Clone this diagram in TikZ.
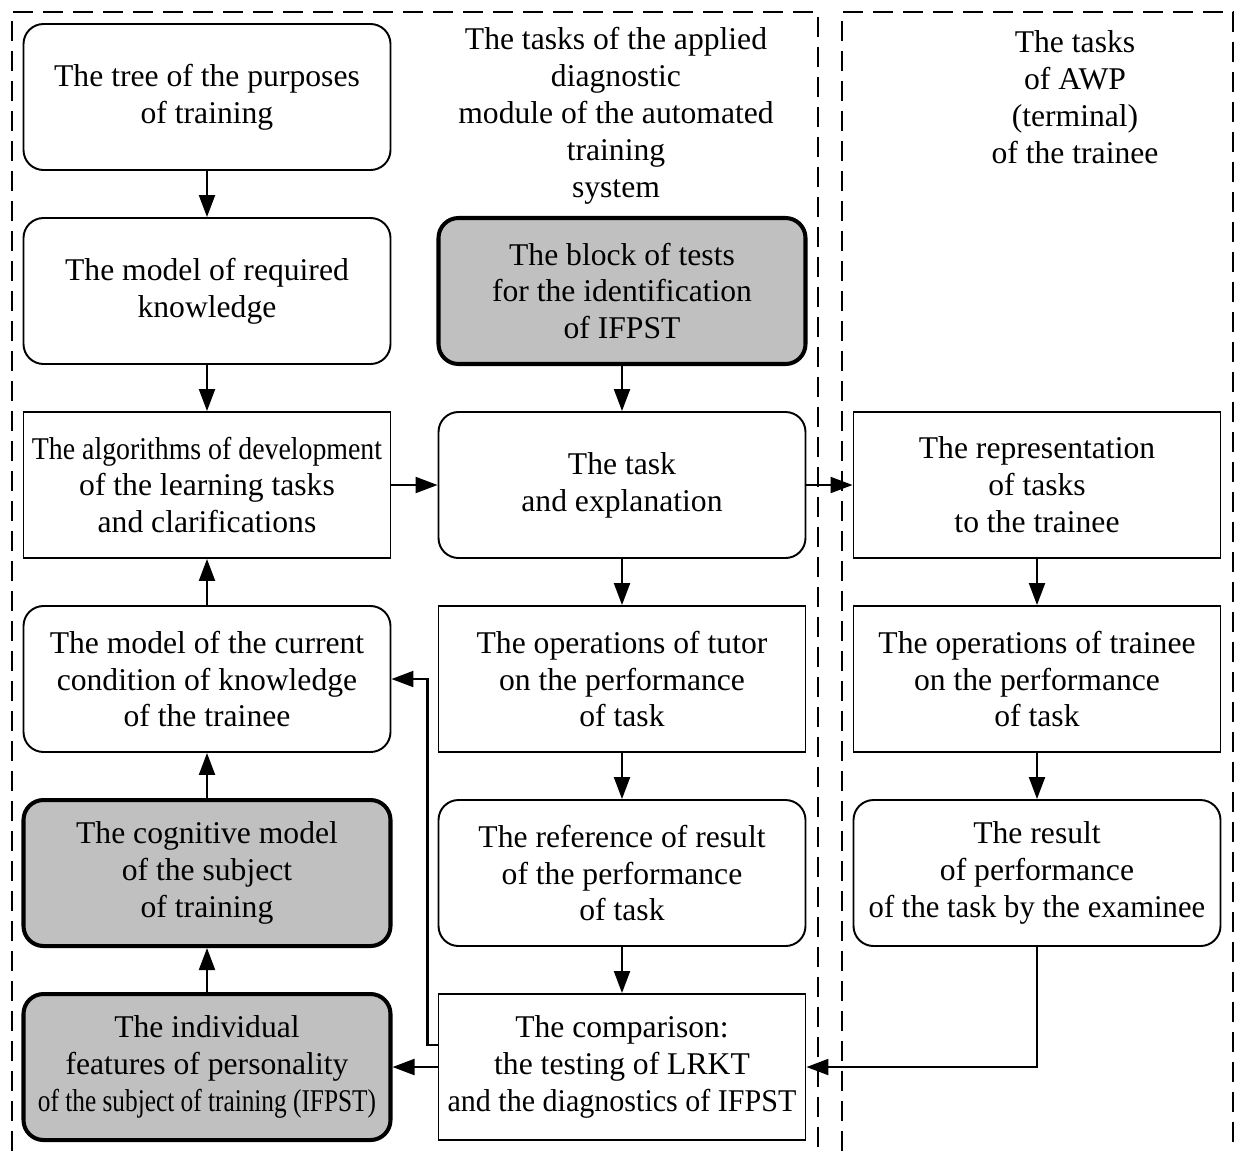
\documentclass[tikz,border=0pt]{standalone}
\usepackage{fontspec}
\setmainfont{Liberation Serif}
\usepackage{graphicx}
\usetikzlibrary{positioning,arrows.meta}
\definecolor{keygrey}{HTML}{C0C0C0}
\newcommand{\squeeze}[2]{\scalebox{#1}[1]{#2}}

\begin{document}
\begin{tikzpicture}[
  node distance=3.88cm,
  font=\fontsize{18}{21}\selectfont,
  roundnode/.style={rectangle, rounded corners=0.4cm, draw=black, line width=1.1pt, minimum width=7.34cm, minimum height=2.92cm, align=center, inner xsep=1pt, inner ysep=2pt},
  sharpnode/.style={rectangle, draw=black, line width=1.1pt, minimum width=7.34cm, minimum height=2.92cm, align=center, inner xsep=1pt, inner ysep=2pt},
  keynode/.style={roundnode, fill=keygrey, line width=2.3pt},
  heading/.style={align=center},
  arrow/.style={-{Triangle[length=4.4mm,width=3.2mm]}, line width=1.2pt},
  frame/.style={dash pattern=on 0.4cm off 0.2cm, line width=1.1pt}
]
\useasboundingbox (0,0) rectangle (24.74,-23.02);

% Frames of the two groups of tasks
\draw[frame] (0.24,-23.02) |- (16.36,-0.24) -- (16.36,-23.02);
\draw[frame] (16.84,-23.02) |- (24.66,-0.24) -- (24.66,-23.02);

\node[heading] (midhead) at (12.32,-2.31) {The tasks of the applied\\diagnostic\\module of the automated\\training\\system};
\node[heading] (righthead) at (21.5,-1.94) {The tasks\\of AWP\\(terminal)\\of the trainee};

% Left column
\node[roundnode] (tree) at (4.14,-1.94) {The tree of the purposes\\of training};
\node[roundnode, below of=tree] (reqmodel) {The model of required\\knowledge};
\node[sharpnode, below of=reqmodel] (algo) {\squeeze{0.88}{The algorithms of development}\\of the learning tasks\\and clarifications};
\node[roundnode, below of=algo] (curmodel) {The model of the current\\condition of knowledge\\of the trainee};
\node[keynode, below of=curmodel] (cogmodel) {The cognitive model\\of the subject\\of training};
\node[keynode, below of=cogmodel] (ifpst) {The individual\\features of personality\\\squeeze{0.8}{of the subject of training (IFPST)}};

% Middle column
\node[keynode, right of=reqmodel, node distance=8.3cm] (tests) {The block of tests\\for the identification\\of IFPST};
\node[roundnode, below of=tests] (task) {The task\\and explanation};
\node[sharpnode, below of=task] (tutorops) {The operations of tutor\\on the performance\\of task};
\node[roundnode, below of=tutorops] (etalon) {The reference of result\\of the performance\\of task};
\node[sharpnode, below of=etalon] (compare) {The comparison:\\the testing of LRKT\\\squeeze{0.95}{and the diagnostics of IFPST}};

% Right column
\node[sharpnode, right of=task, node distance=8.3cm] (present) {The representation\\of tasks\\to the trainee};
\node[sharpnode, below of=present] (traineeops) {The operations of trainee\\on the performance\\of task};
\node[roundnode, below of=traineeops] (result) {The result\\of performance\\\squeeze{0.97}{of the task by the examinee}};

% Connections
\draw[arrow] (tree) -- (reqmodel);
\draw[arrow] (reqmodel) -- (algo);
\draw[arrow] (curmodel) -- (algo);
\draw[arrow] (cogmodel) -- (curmodel);
\draw[arrow] (ifpst) -- (cogmodel);
\draw[arrow] (algo) -- (task);
\draw[arrow] (tests) -- (task);
\draw[arrow] (task) -- (tutorops);
\draw[arrow] (tutorops) -- (etalon);
\draw[arrow] (etalon) -- (compare);
\draw[arrow] (task) -- (present);
\draw[arrow] (present) -- (traineeops);
\draw[arrow] (traineeops) -- (result);
\draw[arrow] (result.south) |- (compare.east);
\draw[arrow] (compare) -- (ifpst);
\draw[arrow] ([yshift=4.4mm]compare.west) -- ++(-0.2,0) |- (curmodel.east);

\end{tikzpicture}
\end{document}
